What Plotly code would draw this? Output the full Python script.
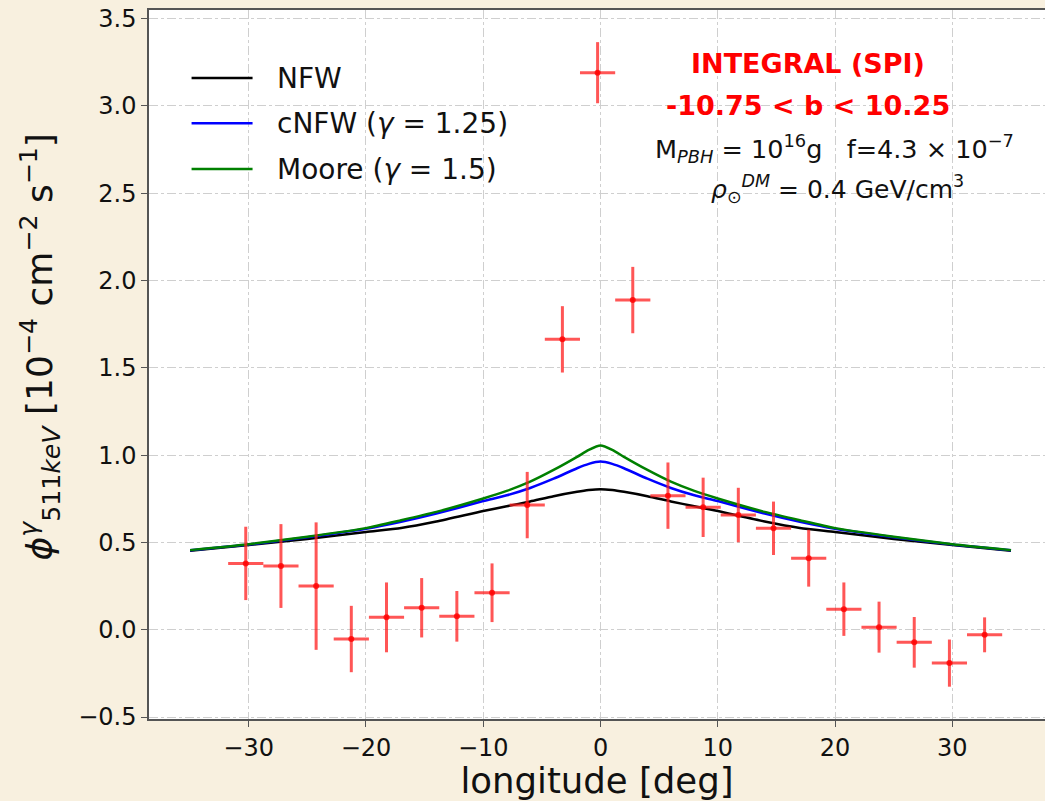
import plotly.graph_objects as go

# ---- data ----
lon = [-30.25, -27.25, -24.25, -21.25, -18.25, -15.25, -12.25, -9.25, -6.25, -3.25, -0.25,
       2.75, 5.75, 8.75, 11.75, 14.75, 17.75, 20.75, 23.75, 26.75, 29.75, 32.75]
flux = [0.38, 0.365, 0.25, -0.053, 0.071, 0.126, 0.077, 0.212, 0.714, 1.663, 3.19,
        1.888, 0.768, 0.701, 0.657, 0.581, 0.41, 0.118, 0.015, -0.072, -0.191, -0.029]
flux_err = [0.21, 0.24, 0.365, 0.19, 0.2, 0.17, 0.145, 0.168, 0.19, 0.19, 0.175,
            0.19, 0.19, 0.17, 0.156, 0.153, 0.163, 0.153, 0.146, 0.145, 0.135, 0.1]
lon_halfwidth = [1.5] * len(lon)

model_lon = [-35, -30, -25, -20, -17, -14, -10, -8, -6, -4, -2, -1, 0,
             1, 2, 4, 6, 8, 10, 14, 17, 20, 25, 30, 35]
nfw = [0.452, 0.485, 0.52, 0.56, 0.583, 0.62, 0.68, 0.707, 0.735, 0.765, 0.79, 0.80, 0.805,
       0.80, 0.79, 0.765, 0.735, 0.707, 0.68, 0.62, 0.583, 0.56, 0.52, 0.485, 0.452]
cnfw = [0.455, 0.488, 0.53, 0.578, 0.618, 0.665, 0.737, 0.77, 0.812, 0.865, 0.925, 0.95, 0.963,
        0.95, 0.925, 0.865, 0.812, 0.77, 0.737, 0.665, 0.618, 0.578, 0.53, 0.488, 0.455]
moore = [0.456, 0.49, 0.533, 0.582, 0.627, 0.675, 0.752, 0.795, 0.848, 0.915, 0.99, 1.03, 1.055,
         1.03, 0.99, 0.915, 0.848, 0.795, 0.752, 0.675, 0.627, 0.582, 0.533, 0.49, 0.456]

x_ticks = [-30, -20, -10, 0, 10, 20, 30]
y_ticks = [-0.5, 0.0, 0.5, 1.0, 1.5, 2.0, 2.5, 3.0, 3.5]

FONT = "DejaVu Sans"
BG = "#f8f0df"

fig = go.Figure()

models = [("NFW", nfw, "black"),
          ("cNFW (<i>γ</i> = 1.25)", cnfw, "#0000ff"),
          ("Moore (<i>γ</i> = 1.5)", moore, "#008000")]
for name, ys, col in models:
    fig.add_trace(go.Scatter(x=model_lon, y=ys, mode="lines", name=name,
                             line=dict(color=col, width=2.5, shape="spline", smoothing=0.6),
                             showlegend=False))

fig.add_trace(go.Scatter(
    x=lon, y=flux, mode="markers", name="INTEGRAL (SPI)",
    marker=dict(color="rgba(255,0,0,0.8)", size=6),
    error_y=dict(type="data", array=flux_err, color="rgba(255,30,30,0.75)", thickness=3, width=0),
    error_x=dict(type="data", array=lon_halfwidth, color="rgba(255,30,30,0.75)", thickness=3, width=0),
    showlegend=False))

# manual legend (matplotlib style)
leg_y = [3.159, 2.901, 2.638]
for (name, ys, col), yy in zip(models, leg_y):
    fig.add_shape(type="line", x0=-34.87, x1=-29.67, y0=yy, y1=yy, xref="x", yref="y",
                  line=dict(color=col, width=2.5))
    fig.add_annotation(x=-27.75, y=yy, xref="x", yref="y", text=name, showarrow=False,
                       xanchor="left", yanchor="middle",
                       font=dict(family=FONT, size=28, color="#111"))

fig.add_annotation(x=17.65, y=3.245, xref="x", yref="y", text="<b>INTEGRAL (SPI)</b>",
                   showarrow=False, font=dict(family=FONT, size=27, color="#ff0000"))
fig.add_annotation(x=17.7, y=3.0, xref="x", yref="y",
                   text="<b>-10.75 < b < 10.25</b>",
                   showarrow=False, font=dict(family=FONT, size=27, color="#ff0000"))
fig.add_annotation(x=19.95, y=2.755, xref="x", yref="y",
                   text="M<sub><i>PBH</i></sub> = 10<sup>16</sup>g\u00a0\u00a0 f=4.3 × 10<sup>−7</sup>",
                   showarrow=False, font=dict(family=FONT, size=25.5, color="#111"))
fig.add_annotation(x=20.2, y=2.525, xref="x", yref="y",
                   text="<i>ρ</i><sub>⊙</sub><sup><i>DM</i></sup> = 0.4 GeV/cm<sup>3</sup>",
                   showarrow=False, font=dict(family=FONT, size=25, color="#111"))

# y-axis title as rotated annotation
fig.add_annotation(x=-0.122, y=0.525, xref="paper", yref="paper", textangle=-90,
                   text="<i>ϕ</i><sup><i>γ</i></sup><sub>511<i>keV</i></sub> [10<sup>−4</sup> cm<sup>−2</sup> s<sup>−1</sup>]",
                   showarrow=False, xanchor="center", yanchor="middle",
                   font=dict(family=FONT, size=36, color="#111"))

fig.update_layout(
    width=1045, height=801,
    margin=dict(l=149, r=0, t=10, b=82),
    paper_bgcolor=BG, plot_bgcolor="white",
    font=dict(family=FONT, color="#111"),
    xaxis=dict(range=[-38.5, 37.9], tickvals=x_ticks, ticktext=[f"{v}".replace("-", "−") for v in x_ticks],
               showgrid=True, gridcolor="#cfcfcf", griddash="dashdot", gridwidth=1,
               zeroline=False, showline=True, linecolor="#555", linewidth=1.5, mirror=True,
               ticks="outside", ticklen=6, tickcolor="#555",
               tickfont=dict(family=FONT, size=24, color="#111"),
               title=dict(text="longitude [deg]", font=dict(family=FONT, size=35.5, color="#111"), standoff=8)),
    yaxis=dict(range=[-0.511, 3.549], tickvals=y_ticks,
               ticktext=[f"{v:.1f}".replace("-", "−") for v in y_ticks],
               showgrid=True, gridcolor="#cfcfcf", griddash="dashdot", gridwidth=1,
               zeroline=False, showline=True, linecolor="#555", linewidth=1.5,
               ticks="outside", ticklen=6, tickcolor="#555",
               tickfont=dict(family=FONT, size=24, color="#111")),
)

fig.write_html("out.html")
